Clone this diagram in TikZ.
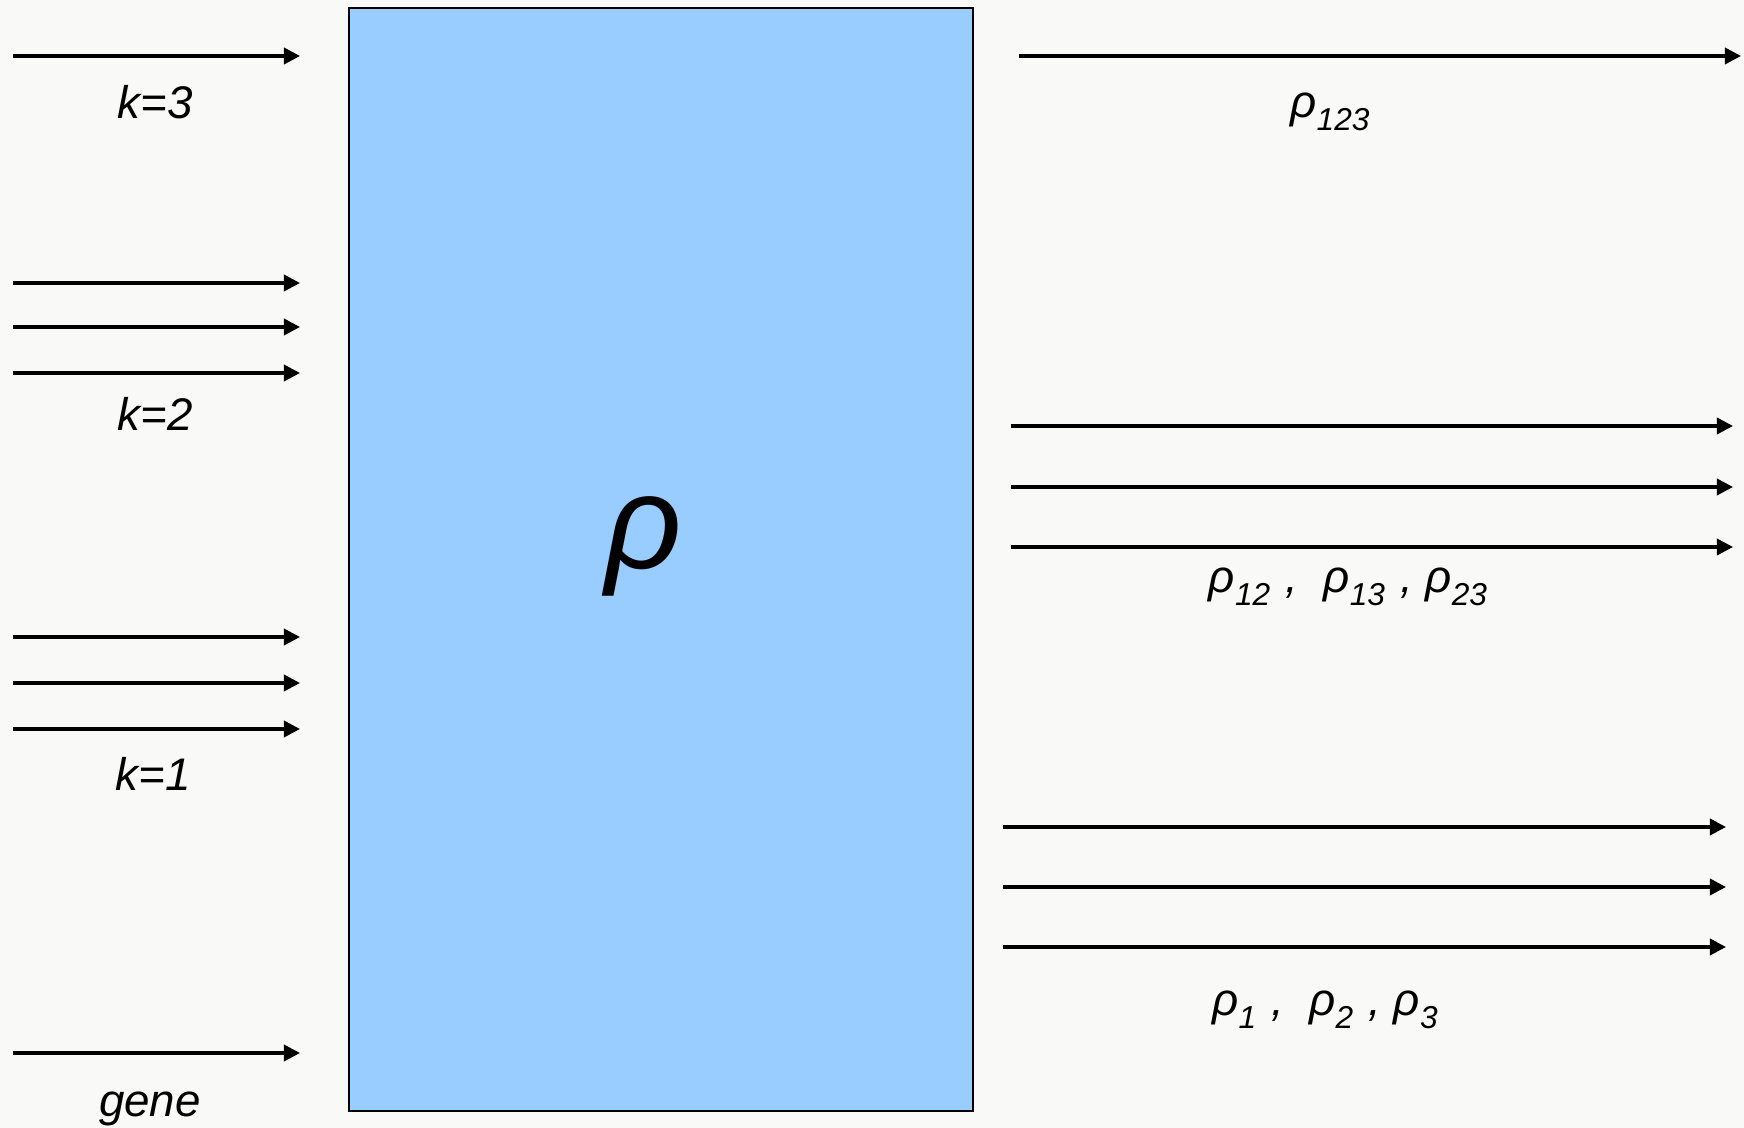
\documentclass[tikz,border=0pt]{standalone}
\usepackage{fontspec}
\setmainfont{Liberation Sans}
\usetikzlibrary{arrows.meta}

\definecolor{paper}{RGB}{249,249,247}
\definecolor{boxblue}{RGB}{153,204,255}

\newcommand{\lowsub}[1]{\raisebox{-3.5pt}{\fontsize{9}{10}\selectfont #1}}

\tikzset{
    flow/.style={line width=1pt, -{Triangle[length=4.6pt, width=4.6pt]}},
    lbl/.style={font=\fontsize{13}{15}\selectfont\itshape, inner sep=0pt},
}

\begin{document}
\begin{tikzpicture}[x=0.01cm, y=-0.01cm]

    % ---------- 背景 ----------
    \fill[paper] (0,0) rectangle (1744,1128);
    \useasboundingbox (0,0) rectangle (1744,1128);

    % ---------- 中间的密度矩阵方块 ----------
    \draw[fill=boxblue, line width=0.6pt] (349,8) rectangle (973,1111);
    \node[lbl, font=\fontsize{38}{40}\selectfont\itshape] (rho) at (644,546) {ρ};

    % ---------- 左侧输入箭头 ----------
    \foreach \i/\y in {a/56, b/283, c/327, d/373, e/637, f/683, g/729, h/1053}{
        \coordinate (in\i s) at (13,\y);
        \coordinate (in\i e) at (300,\y);
        \draw[flow] (in\i s) -- (in\i e);
    }

    % 左侧标签
    \node[lbl] (k3) at (155,102) {k=3};
    \node[lbl] (k2) at (155,414) {k=2};
    \node[lbl] (k1) at (153,774) {k=1};
    \node[lbl] (gene) at (150,1109) {gene};

    % ---------- 右侧输出箭头 ----------
    \coordinate (outas) at (1019,56);
    \coordinate (outae) at (1741,56);
    \draw[flow] (outas) -- (outae);

    \foreach \i/\y in {b/426, c/487, d/547}{
        \coordinate (out\i s) at (1011,\y);
        \coordinate (out\i e) at (1733,\y);
        \draw[flow] (out\i s) -- (out\i e);
    }

    \foreach \i/\y in {e/827, f/887, g/947}{
        \coordinate (out\i s) at (1003,\y);
        \coordinate (out\i e) at (1726,\y);
        \draw[flow] (out\i s) -- (out\i e);
    }

    % 右侧标签
    \node[lbl] (r123) at (1330,112) {ρ\lowsub{123}};
    \node[lbl] (r2) at (1348,587) {ρ\lowsub{12}\,\,,\ \ ρ\lowsub{13}\,\,, ρ\lowsub{23}};
    \node[lbl] (r1) at (1325,1010) {ρ\lowsub{1}\,\,,\ \ ρ\lowsub{2}\,\,, ρ\lowsub{3}};

\end{tikzpicture}
\end{document}
